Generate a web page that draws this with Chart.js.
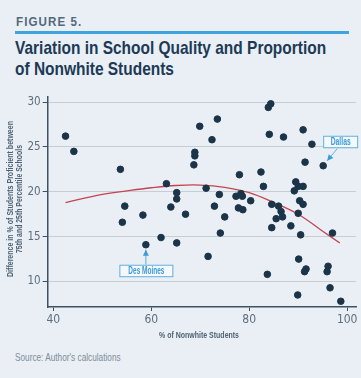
<!DOCTYPE html>
<html>
<head>
<meta charset="utf-8">
<script src="https://cdn.jsdelivr.net/npm/chart.js@4"></script>
<style>
  html, body { margin: 0; padding: 0; }
  body { width: 361px; height: 378px; background: #e9eff4; position: relative; overflow: hidden;
         font-family: 'Liberation Sans', Arial, sans-serif; }
  .fit { position: absolute; white-space: nowrap; transform-origin: 0 0; }
  #fig { left: 16px; top: 14px; font-weight: bold; font-size: 13px; letter-spacing: 1.2px; color: #53687d; }
  #rule { position: absolute; left: 15px; top: 31px; width: 334px; height: 3px; background: #3fa3dc; }
  #t1, #t2 { left: 15px; font-weight: bold; font-size: 19px; line-height: 22px; color: #1d3a57; }
  #t1 { top: 37px; }
  #t2 { top: 58px; }
  #source { left: 15px; top: 351px; font-size: 10.5px; color: #7e8c99; }
  #wrap { position: absolute; left: 0; top: 0; width: 361px; height: 378px; }
</style>
</head>
<body>
<div id="fig" class="fit">FIGURE 5.</div>
<div id="rule"></div>
<div id="t1" class="fit">Variation in School Quality and Proportion</div>
<div id="t2" class="fit">of Nonwhite Students</div>
<div id="source" class="fit">Source: Author's calculations</div>
<div id="wrap"><canvas id="myChart" width="361" height="378"></canvas></div>
<script>
// % nonwhite students and difference in % proficient (75th - 25th pct schools)
const pctNonwhite = [42.5, 44.2, 53.7, 54.6, 54.1, 58.3, 63.1, 65.2, 65.2, 64.0, 62.0, 58.9, 65.2,
  84.4, 83.9, 69.9, 73.5, 72.4, 84.1, 87.0, 91.0, 92.8, 68.9, 68.9, 68.7, 91.4, 95.1, 78.0, 82.4,
  82.9, 71.2, 73.9, 72.9, 67.0, 75.0, 74.1, 77.3, 78.3, 78.6, 80.3, 77.8, 78.7, 84.6, 86.0, 86.5,
  86.8, 85.5, 84.6, 88.5, 89.5, 90.0, 91.0, 89.2, 90.3, 91.0, 90.0, 90.5, 97.0, 71.6, 83.7, 90.1,
  91.6, 91.3, 96.1, 95.9, 96.5, 89.9, 98.7];
const diffProficient = [26.2, 24.5, 22.5, 18.4, 16.6, 17.4, 20.9, 19.9, 19.2, 18.3, 14.9, 14.1, 14.3,
  29.8, 29.4, 27.3, 28.1, 25.8, 26.4, 26.1, 26.9, 25.3, 24.4, 24.0, 23.0, 23.3, 22.9, 21.9, 22.2,
  20.6, 20.4, 19.7, 18.4, 17.5, 17.2, 15.4, 19.5, 19.8, 19.5, 19.0, 18.2, 18.0, 18.6, 18.4, 17.8,
  17.2, 17.0, 16.0, 16.2, 21.1, 20.6, 20.6, 20.1, 19.0, 18.6, 17.6, 15.2, 15.4, 12.8, 10.8, 12.5,
  11.4, 11.1, 11.7, 11.1, 9.3, 8.5, 7.8];

// fitted trend line
const fitX = [42.5, 50, 55, 60, 65, 70, 75, 80, 85, 90, 95, 98.5];
const fitY = [18.8, 19.7, 20.1, 20.45, 20.7, 20.75, 20.5, 19.9, 18.8, 17.5, 15.6, 14.3];

const xTicks = [40, 60, 80, 100];
const yTicks = [10, 15, 20, 25, 30];

const callouts = [
  { label: 'Dallas', x: 95.1, y: 22.9 },
  { label: 'Des Moines', x: 58.9, y: 14.1 }
];

// squeeze the html text to the widths in the reference (no condensed font available)
function squeeze(id, w) {
  const el = document.getElementById(id);
  const k = w / el.offsetWidth;
  el.style.transform = 'scaleX(' + k + ')';
  return k;
}
const kTitle = squeeze('t1', 311);
document.getElementById('t2').style.transform = 'scaleX(' + kTitle + ')';
squeeze('fig', 66);
squeeze('source', 106);

const sans = "'Liberation Sans', Arial, sans-serif";
const navy = '#1c3448';
const axisCol = '#3e5163';
const tickCol = '#5d6e7e';
const blue = '#3c9ad6';

const points = pctNonwhite.map((x, i) => ({ x: x, y: diffProficient[i] }));
const fit = fitX.map((x, i) => ({ x: x, y: fitY[i] }));

function narrowText(c, text, x, y, w) {
  const k = w / c.measureText(text).width;
  c.save();
  c.translate(x, y);
  c.scale(k, 1);
  c.fillText(text, 0, 0);
  c.restore();
}

function arrow(c, x1, y1, x2, y2) {
  c.beginPath();
  c.moveTo(x1, y1);
  c.lineTo(x2, y2);
  c.stroke();
  const a = Math.atan2(y2 - y1, x2 - x1);
  c.beginPath();
  c.moveTo(x2, y2);
  c.lineTo(x2 - 6 * Math.cos(a) + 3 * Math.sin(a), y2 - 6 * Math.sin(a) - 3 * Math.cos(a));
  c.lineTo(x2 - 6 * Math.cos(a) - 3 * Math.sin(a), y2 - 6 * Math.sin(a) + 3 * Math.cos(a));
  c.closePath();
  c.fill();
}

const extras = {
  id: 'extras',
  afterDatasetsDraw(chart) {
    const c = chart.ctx;
    const sx = chart.scales.x, sy = chart.scales.y;
    const area = chart.chartArea;
    c.save();
    // axis titles
    c.fillStyle = '#4f6275';
    c.textAlign = 'center';
    c.textBaseline = 'middle';
    c.font = 'bold 9.5px ' + sans;
    narrowText(c, '% of Nonwhite Students', 199, 335, 80);
    c.save();
    c.translate(11, 199);
    c.rotate(-Math.PI / 2);
    c.font = 'bold 9px ' + sans;
    narrowText(c, 'Difference in % of Students Proficient between', 0, 0, 156);
    narrowText(c, '75th and 25th Percentile Schools', 0, 8.5, 108);
    c.restore();

    // callouts
    c.font = 'bold 10px ' + sans;
    c.lineWidth = 1;
    callouts.forEach((d, i) => {
      const px = sx.getPixelForValue(d.x), py = sy.getPixelForValue(d.y);
      let bx, by, bw, bh = 11.5, tw;
      c.strokeStyle = '#5dafe0';
      c.fillStyle = blue;
      if (i === 0) {
        bx = px; by = py - 30; bw = 34; tw = 20;
        arrow(c, px + 14, py - 17, px + 4, py - 5);
      } else {
        bw = 53; bx = px - 26.5; by = py + 20; tw = 36;
        arrow(c, px, py + 20, px, py + 5);
      }
      c.fillStyle = '#f5f9fc';
      c.fillRect(bx, by, bw, bh);
      c.strokeRect(bx + 0.5, by + 0.5, bw, bh);
      c.fillStyle = blue;
      narrowText(c, d.label, bx + bw / 2 + 0.5, by + bh / 2 + 1, tw);
    });
    c.restore();
  }
};

new Chart(document.getElementById('myChart'), {
  type: 'scatter',
  data: {
    datasets: [{
      data: points,
      backgroundColor: navy,
      borderColor: navy,
      pointRadius: 3.3,
      order: 0
    }, {
      type: 'line',
      data: fit,
      borderColor: '#c4454f',
      borderWidth: 1.3,
      pointRadius: 0,
      tension: 0.4,
      fill: false,
      order: 1
    }]
  },
  options: {
    responsive: false,
    animation: false,
    events: [],
    layout: { padding: { left: 0, top: 97, right: 5, bottom: 41 } },
    plugins: { legend: { display: false }, tooltip: { enabled: false } },
    scales: {
      x: {
        type: 'linear',
        min: 38.86,
        max: 101.8,
        afterFit(s) { s.height = 30; },
        afterBuildTicks(s) { s.ticks = xTicks.map(v => ({ value: v })); },
        border: { color: axisCol, width: 1.5 },
        grid: { drawOnChartArea: false, tickLength: 4, tickColor: axisCol, tickWidth: 1 },
        ticks: { color: tickCol, padding: 2, font: { family: "'DejaVu Sans Condensed', sans-serif", size: 12 } }
      },
      y: {
        min: 7.16,
        max: 30.56,
        afterFit(s) { s.width = 47.7; },
        afterBuildTicks(s) { s.ticks = yTicks.map(v => ({ value: v })); },
        border: { color: axisCol, width: 1.5 },
        grid: { color: '#c6cdd4', lineWidth: 1, tickLength: 5, tickColor: axisCol, tickWidth: 1 },
        ticks: { color: tickCol, padding: 2, font: { family: "'DejaVu Sans Condensed', sans-serif", size: 11.5 } }
      }
    }
  },
  plugins: [extras]
});
</script>
</body>
</html>
